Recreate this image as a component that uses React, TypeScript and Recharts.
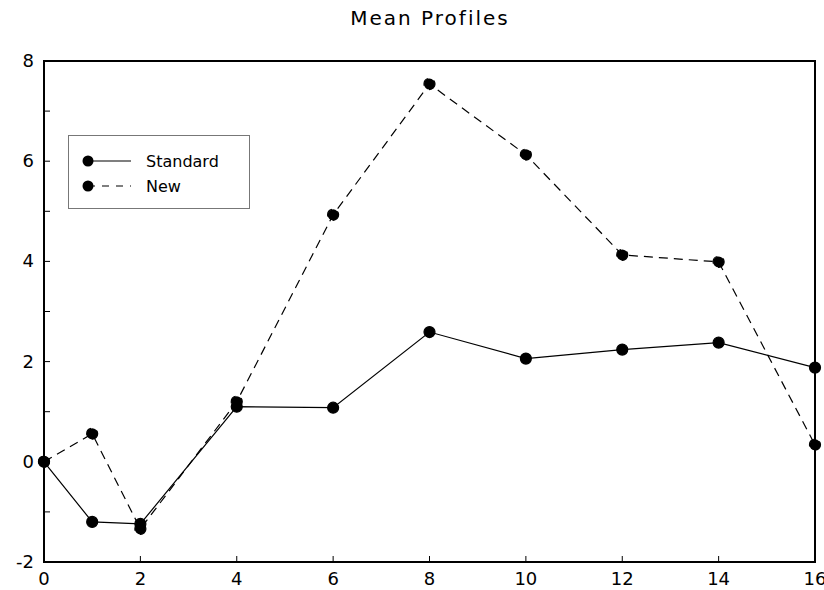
import { LineChart, Line, XAxis, YAxis, ReferenceArea } from 'recharts';

const weeks = [0, 1, 2, 4, 6, 8, 10, 12, 14, 16];
const standard = [0, -1.2, -1.24, 1.1, 1.08, 2.59, 2.06, 2.24, 2.38, 1.88];
const newer = [0, 0.56, -1.34, 1.2, 4.93, 7.54, 6.13, 4.13, 3.99, 0.34];
const xTicks = [0, 2, 4, 6, 8, 10, 12, 14, 16];
const yTicks = [-2, -1, 0, 1, 2, 3, 4, 5, 6, 7, 8];

const data = weeks.map((w, i) => ({ week: w, standard: standard[i], newer: newer[i] }));

const FONT = '"DejaVu Sans", sans-serif';

const XTick = (props: { x?: number; y?: number; payload?: { value: number } }) => {
  const { x = 0, y = 0, payload } = props;
  return (
    <g>
      <line x1={x} y1={y} x2={x} y2={y - 6} stroke="#000" strokeWidth={1} />
      <text x={x} y={y + 23} textAnchor="middle" fontSize={18} fontFamily={FONT} fill="#000">{payload?.value}</text>
    </g>
  );
};

const YTick = (props: { x?: number; y?: number; payload?: { value: number } }) => {
  const { x = 0, y = 0, payload } = props;
  const v = payload?.value ?? 0;
  return (
    <g>
      <line x1={x} y1={y} x2={x + 6} y2={y} stroke="#000" strokeWidth={1} />
      {v % 2 === 0 && (
        <text x={x - 10} y={y + 6} textAnchor="end" fontSize={18} fontFamily={FONT} fill="#000">{v}</text>
      )}
    </g>
  );
};

const LegendBox = () => (
  <div style={{ position: 'absolute', left: 68, top: 135, width: 182, height: 74, border: '1px solid #777', background: '#fff', boxSizing: 'border-box' }}>
    <svg width={180} height={72} style={{ position: 'absolute', left: 0, top: 0 }}>
      <line x1={19} y1={25} x2={62} y2={25} stroke="#000" strokeWidth={1.2} />
      <circle cx={19} cy={25} r={5.5} fill="#000" />
      <text x={77} y={31} fontSize={16} fontFamily={FONT} fill="#000">Standard</text>
      <line x1={19} y1={50} x2={62} y2={50} stroke="#000" strokeWidth={1.2} strokeDasharray="7 7" />
      <circle cx={19} cy={50} r={5.5} fill="#000" />
      <text x={77} y={56} fontSize={16} fontFamily={FONT} fill="#000">New</text>
    </svg>
  </div>
);

export default function App() {
  return (
    <div style={{ width: 824, height: 590, position: 'relative', background: '#fff', overflow: 'hidden' }}>
      <style>{'body{margin:0}'}</style>
      <LineChart width={824} height={590} data={data} margin={{ top: 61, right: 9, bottom: 0, left: 0 }}>
        <XAxis
          dataKey="week" type="number" domain={[0, 16]} ticks={xTicks}
          axisLine={false} tickLine={false} tickSize={0} tickMargin={0} height={28}
          tick={<XTick />} interval={0}
        />
        <YAxis
          type="number" domain={[-2, 8]} ticks={yTicks}
          axisLine={false} tickLine={false} tickSize={0} tickMargin={0} width={44}
          tick={<YTick />} interval={0}
        />
        <ReferenceArea x1={0} x2={16} y1={-2} y2={8} fill="none" stroke="#000" strokeWidth={2} ifOverflow="visible" />
        <Line
          dataKey="newer" stroke="#000" strokeWidth={1.2} strokeDasharray="9 6"
          dot={{ r: 5.5, fill: '#000', stroke: '#000' }} isAnimationActive={false}
        />
        <Line
          dataKey="standard" stroke="#000" strokeWidth={1.2}
          dot={{ r: 5.5, fill: '#000', stroke: '#000' }} isAnimationActive={false}
        />
      </LineChart>
      <div style={{ position: 'absolute', top: 6, left: 0, width: 824, textAlign: 'center', paddingLeft: 36, boxSizing: 'border-box', fontFamily: FONT, fontSize: 20, letterSpacing: 2 }}>
        Mean Profiles
      </div>
      <LegendBox />
    </div>
  );
}
